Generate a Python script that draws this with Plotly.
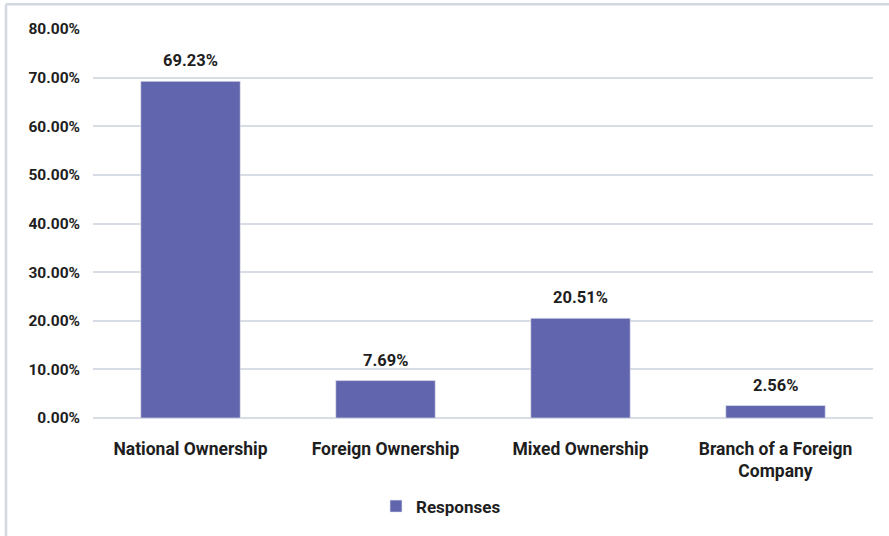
import plotly.graph_objects as go

categories = ["National Ownership", "Foreign Ownership", "Mixed Ownership",
              "Branch of a Foreign<br>Company"]
responses = [69.23, 7.69, 20.51, 2.56]
tick_values = [0, 10, 20, 30, 40, 50, 60, 70, 80]
tick_labels = [f"{v:.2f}%" for v in tick_values]

BAR = "#6065ad"
GRID = "#d8dce4"
TEXT = "#1e1e1e"
FONT = "Roboto"

fig = go.Figure()
fig.add_trace(go.Bar(
    x=categories,
    y=responses,
    name="Responses",
    marker=dict(color=BAR, line=dict(color="#e6e7f2", width=0.6)),
))

# value labels placed above each bar
for c, v in zip(categories, responses):
    fig.add_annotation(x=c, y=v, text=f"{v:.2f}%", showarrow=False,
                       yanchor="bottom", yshift=9,
                       font=dict(family=FONT, size=16.5, color=TEXT,
                                 weight="bold"))

W, H = 889, 536
L, R, T, B = 93, 16, 29, 116
pw, ph = W - L - R, H - T - B


def px_x(p):
    return (p - L) / pw


def px_y(p):
    return (H - B - p) / ph


# outer frame: only top and left edges fall inside the canvas
fig.add_shape(type="line", xref="paper", yref="paper",
              x0=px_x(6), x1=px_x(W + 5), y0=px_y(4), y1=px_y(4),
              line=dict(color="#d3d8e0", width=2.5))
fig.add_shape(type="line", xref="paper", yref="paper",
              x0=px_x(6), x1=px_x(6), y0=px_y(4), y1=px_y(H + 5),
              line=dict(color="#d3d8e0", width=2.5))

fig.update_layout(
    width=W, height=H,
    margin=dict(l=L, r=R, t=T, b=B),
    paper_bgcolor="white",
    plot_bgcolor="white",
    bargap=0.49,
    font=dict(family=FONT, size=15, color=TEXT, weight="bold"),
    showlegend=True,
    legend=dict(orientation="h", x=px_x(441), xanchor="center",
                y=px_y(509), yanchor="middle",
                font=dict(family=FONT, size=17, color=TEXT, weight="bold"),
                itemwidth=30),
    xaxis=dict(showgrid=False, showline=False, ticks="",
               tickfont=dict(family=FONT, size=17.5, color=TEXT, weight="bold"),
               ticklabelstandoff=18),
    yaxis=dict(range=[0, 80], tickvals=tick_values, ticktext=tick_labels,
               showgrid=True, gridcolor=GRID, gridwidth=2,
               zeroline=True, zerolinecolor=GRID, zerolinewidth=2,
               showline=False, ticks="",
               tickfont=dict(family=FONT, size=15.5, color=TEXT, weight="bold"),
               ticklabelstandoff=12),
)

fig.write_html("out.html")
